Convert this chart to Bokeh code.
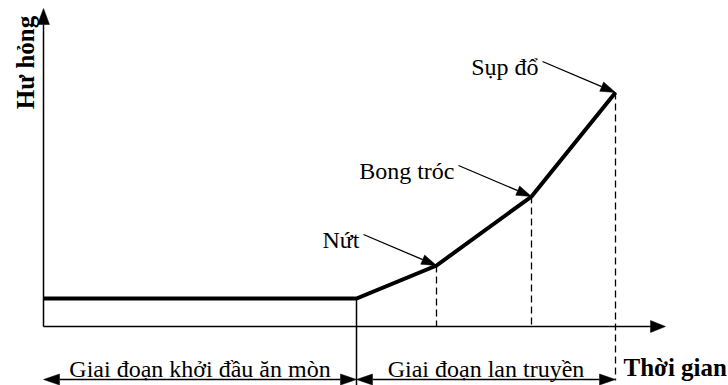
import numpy as np
from bokeh.plotting import figure
from bokeh.models import Range1d
from bokeh.core.properties import value
from bokeh.embed import file_html
from bokeh.resources import INLINE

# ---- data (diagram units: time along x, damage along y) ----
time_points = [0, 313, 393, 488, 572]      # start, end of initiation, cracking, spalling, collapse
damage = [28, 28, 61, 130, 234]
event_labels = ["Nứt", "Bong tróc", "Sụp đổ"]   # at points 2, 3, 4
phase_labels = ["Giai đoạn khởi đầu ăn mòn", "Giai đoạn lan truyền"]
x_label = "Thời gian"
y_label = "Hư hỏng"
x_axis_end = 622
y_axis_end = 318

FONT = value("Liberation Serif")

p = figure(width=728, height=385, output_backend="svg", toolbar_location=None,
           x_range=Range1d(-43, 685), y_range=Range1d(-59, 326),
           x_axis_type=None, y_axis_type=None, min_border=0)
p.grid.visible = False
p.outline_line_color = None
p.background_fill_color = "white"
p.border_fill_color = "white"

heads_x, heads_y = [], []
def head(x0, y0, x1, y1, L, W):
    d = np.array([x1 - x0, y1 - y0], float)
    d /= np.hypot(*d)
    n = np.array([-d[1], d[0]])
    tip = np.array([x1, y1], float)
    base = tip - d * L
    a = base + n * W
    b = base - n * W
    heads_x.append([tip[0], a[0], b[0]])
    heads_y.append([tip[1], a[1], b[1]])
    return base

# axes
bx = head(0, 0, x_axis_end, 0, 15, 6)
p.line([0, bx[0]], [0, 0], line_color="black", line_width=1.5)
by = head(0, 0, 0, y_axis_end, 16, 6)
p.line([0, 0], [0, by[1]], line_color="black", line_width=1.5)

# dashed guides
for i in (2, 3):
    p.line([time_points[i], time_points[i]], [damage[i], 0], line_color="black",
           line_width=1.3, line_dash="7 4")
p.line([time_points[4], time_points[4]], [damage[4], -54], line_color="black",
       line_width=1.3, line_dash="7 4")
# solid separator
p.line([time_points[1], time_points[1]], [damage[1], -59], line_color="black", line_width=1.5)

# damage curve
p.line(time_points, damage, line_color="black", line_width=4, line_join="miter")

# phase double arrows
ya = -53
bounds = [(time_points[0], time_points[1]), (time_points[1], time_points[4])]
for (a, b) in bounds:
    r = head(a, ya, b, ya, 16, 5.5)
    l = head(b, ya, a, ya, 16, 5.5)
    p.line([l[0], r[0]], [ya, ya], line_color="black", line_width=1.5)

# event annotations
tx, ty, tt = [], [], []
for lab, i in zip(event_labels, (2, 3, 4)):
    x1, y1 = time_points[i], damage[i]
    x0, y0 = x1 - 73, y1 + 31
    bs = head(x0, y0, x1, y1, 15, 5)
    p.line([x0, bs[0]], [y0, bs[1]], line_color="black", line_width=1.3)
    tx.append(x1 - 77); ty.append(y1 + 26); tt.append(lab)
p.text(x=tx, y=ty, text=tt, text_font=FONT, text_font_size="24px",
       text_align="right", text_baseline="alphabetic", text_color="black")

p.patches(heads_x, heads_y, fill_color="black", line_color="black", line_width=0.5)

# phase labels
mids = [(a + b) / 2 for a, b in bounds]
p.text(x=mids, y=[-42, -42], text=phase_labels, text_font=FONT, text_font_size="24px",
       text_align="center", text_baseline="alphabetic", text_color="black")

# axis labels
p.text(x=[580], y=[-41], text=[x_label], text_font=FONT, text_font_size="25px",
       text_font_style="bold", text_align="left", text_baseline="alphabetic", text_color="black")
p.text(x=[-18], y=[264], text=[y_label], text_font=FONT, text_font_size="25px",
       text_font_style="bold", text_align="center", text_baseline="middle",
       angle=np.pi / 2, text_color="black")

open("out.html", "w").write(file_html(p, INLINE))
